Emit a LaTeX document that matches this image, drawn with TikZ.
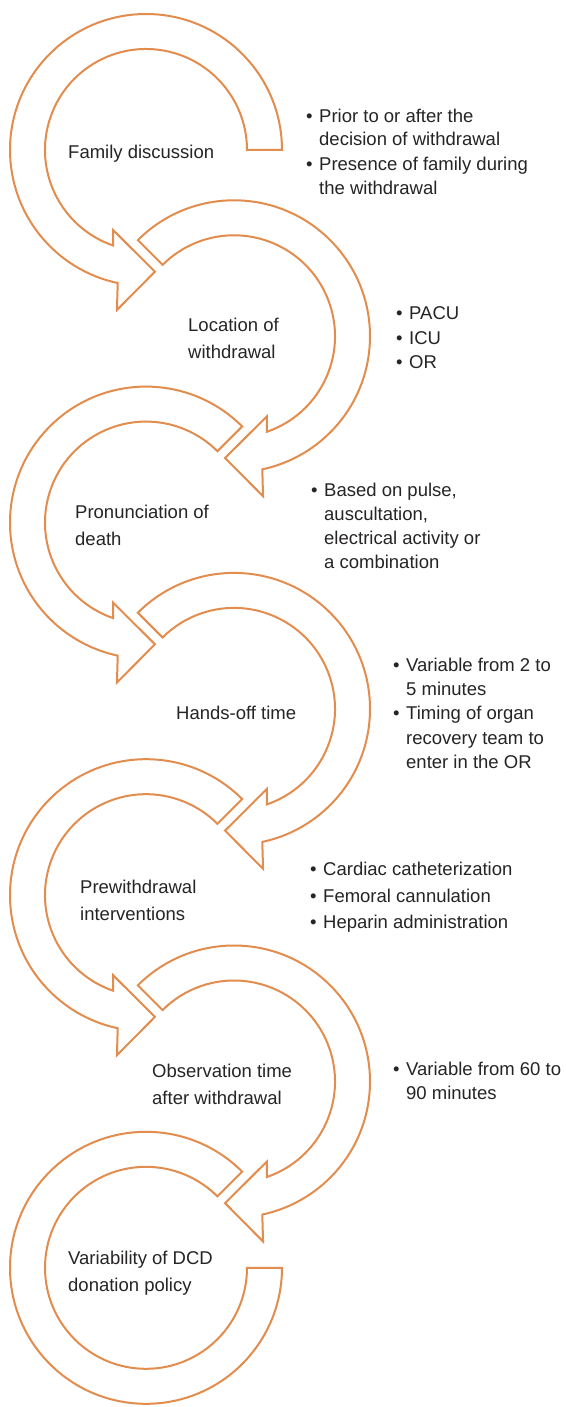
\documentclass[tikz,border=0pt]{standalone}
\usepackage{fontspec}
\setmainfont{Liberation Sans}
\definecolor{arroworange}{RGB}{226,140,78}
\definecolor{textgray}{RGB}{38,36,37}
\newcommand{\cyclearrow}[1]{%
  \draw[arrowshape] (#1:136) arc[start angle=#1, end angle=258, radius=136]
    -- (259.7:162.6) -- (274.2:122) -- (247.6:86.5) -- (251:101)
    arc[start angle=251, end angle=#1, radius=101] -- cycle;}
\begin{document}
\begin{tikzpicture}[x=1pt,y=1pt,
  arrowshape/.style={draw=arroworange, fill=white, line width=2pt, line join=miter},
  label/.style={anchor=base west, align=left, inner sep=0pt, text=textgray,
    font=\fontsize{18.5}{27}\selectfont},
  blist/.style={anchor=base west, align=left, inner sep=0pt, text=textgray,
    font=\fontsize{18.5}{24}\selectfont},
  blistwide/.style={blist, font=\fontsize{18.5}{26.7}\selectfont}]
\useasboundingbox (0,0) rectangle (565,-1407);
\fill[white] (0,0) rectangle (565,-1407);
% arrows
\begin{scope}[shift={(146,-150)}]\cyclearrow{0}\end{scope}
\begin{scope}[shift={(234,-336.3)},xscale=-1]\cyclearrow{45}\end{scope}
\begin{scope}[shift={(146,-522.6)}]\cyclearrow{45}\end{scope}
\begin{scope}[shift={(234,-708.9)},xscale=-1]\cyclearrow{45}\end{scope}
\begin{scope}[shift={(146,-895.2)}]\cyclearrow{45}\end{scope}
\begin{scope}[shift={(234,-1081.5)},xscale=-1]\cyclearrow{45}\end{scope}
\begin{scope}[shift={(146,-1267.8)}]
  \draw[arrowshape] (45:136) arc[start angle=45, end angle=360, radius=136]
    -- (360:101) arc[start angle=360, end angle=45, radius=101] -- cycle;
\end{scope}
% labels (anchor = baseline of last line)
\node[label] (l1) at (68,-158.5) {Family discussion};
\node[label] (l2) at (188,-358.5) {Location of\\withdrawal};
\node[label] (l3) at (75,-545.5) {Pronunciation of\\death};
\node[label] (l4) at (176,-719.5) {Hands-off time};
\node[label] (l5) at (80,-920.5) {Prewithdrawal\\interventions};
\node[label] (l6) at (152,-1104.5) {Observation time\\after withdrawal};
\node[label] (l7) at (68,-1291.5) {Variability of DCD\\donation policy};
% bullet lists
\newcommand{\bul}{\llap{\textbullet\hspace{6.5pt}}}
\node[blist] (b1) at (319,-194) {\bul Prior to or after the\\decision of withdrawal\\\bul Presence of family during\\the withdrawal};
\node[blist, font=\fontsize{18.5}{24.5}\selectfont] (b2) at (409,-368.5) {\bul PACU\\\bul ICU\\\bul OR};
\node[blist] (b3) at (324,-568.5) {\bul Based on pulse,\\auscultation,\\electrical activity or\\a combination};
\node[blist, font=\fontsize{18.5}{24.2}\selectfont] (b4) at (406,-768.3) {\bul Variable from 2 to\\5 minutes\\\bul Timing of organ\\recovery team to\\enter in the OR};
\node[blistwide] (b5) at (323,-928.9) {\bul Cardiac catheterization\\\bul Femoral cannulation\\\bul Heparin administration};
\node[blist] (b6) at (406,-1099.5) {\bul Variable from 60 to\\90 minutes};
\end{tikzpicture}
\end{document}
